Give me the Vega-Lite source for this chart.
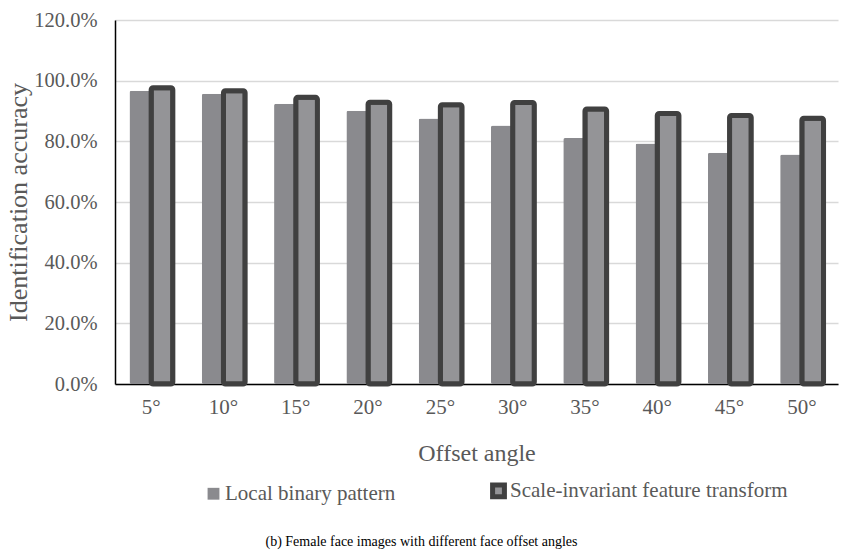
{
  "$schema": "https://vega.github.io/schema/vega-lite/v6.json",
  "width": 723,
  "height": 364,
  "autosize": {"type": "none"},
  "padding": {"left": 115, "top": 20, "right": 4, "bottom": 173},
  "background": "white",
  "title": {
    "text": "(b) Female face images with different face offset angles",
    "orient": "bottom",
    "font": "'Times New Roman', 'Liberation Serif', serif",
    "fontSize": 14,
    "fontWeight": "normal",
    "color": "#000000",
    "offset": 28,
    "anchor": "middle",
    "dx": -55
  },
  "data": {
    "values": [
      {"angle": "5°", "method": "Local binary pattern", "accuracy": 0.967},
      {"angle": "5°", "method": "Scale-invariant feature transform", "accuracy": 0.977},
      {"angle": "10°", "method": "Local binary pattern", "accuracy": 0.957},
      {"angle": "10°", "method": "Scale-invariant feature transform", "accuracy": 0.967},
      {"angle": "15°", "method": "Local binary pattern", "accuracy": 0.924},
      {"angle": "15°", "method": "Scale-invariant feature transform", "accuracy": 0.945},
      {"angle": "20°", "method": "Local binary pattern", "accuracy": 0.901},
      {"angle": "20°", "method": "Scale-invariant feature transform", "accuracy": 0.929},
      {"angle": "25°", "method": "Local binary pattern", "accuracy": 0.875},
      {"angle": "25°", "method": "Scale-invariant feature transform", "accuracy": 0.921},
      {"angle": "30°", "method": "Local binary pattern", "accuracy": 0.852},
      {"angle": "30°", "method": "Scale-invariant feature transform", "accuracy": 0.928},
      {"angle": "35°", "method": "Local binary pattern", "accuracy": 0.811},
      {"angle": "35°", "method": "Scale-invariant feature transform", "accuracy": 0.907},
      {"angle": "40°", "method": "Local binary pattern", "accuracy": 0.793},
      {"angle": "40°", "method": "Scale-invariant feature transform", "accuracy": 0.892},
      {"angle": "45°", "method": "Local binary pattern", "accuracy": 0.762},
      {"angle": "45°", "method": "Scale-invariant feature transform", "accuracy": 0.885},
      {"angle": "50°", "method": "Local binary pattern", "accuracy": 0.757},
      {"angle": "50°", "method": "Scale-invariant feature transform", "accuracy": 0.876}
    ]
  },
  "config": {
    "view": {"stroke": null},
    "font": "'Times New Roman', 'Liberation Serif', serif",
    "axis": {
      "labelColor": "#595959",
      "titleColor": "#595959",
      "titleFontWeight": "normal",
      "domainColor": "#000000",
      "domainWidth": 1.5,
      "ticks": false
    },
    "legend": {
      "labelColor": "#595959"
    }
  },
  "mark": {"type": "bar", "cornerRadius": 2},
  "encoding": {
    "x": {
      "field": "angle",
      "type": "nominal",
      "sort": null,
      "scale": {"paddingInner": 0.4, "paddingOuter": 0.2},
      "axis": {
        "title": "Offset angle",
        "labelFont": "Liberation Serif",
        "titleFont": "Liberation Serif",
        "labelAngle": 0,
        "labelFontSize": 21,
        "labelPadding": 12,
        "titleFontSize": 24,
        "titlePadding": 24,
        "grid": false
      }
    },
    "xOffset": {"field": "method", "type": "nominal", "sort": null},
    "y": {
      "field": "accuracy",
      "type": "quantitative",
      "scale": {"domain": [0, 1.2]},
      "axis": {
        "title": "Identification accuracy",
        "labelFont": "Liberation Serif",
        "titleFont": "Liberation Serif",
        "format": ".1%",
        "values": [0, 0.2, 0.4, 0.6, 0.8, 1.0, 1.2],
        "labelFontSize": 20.5,
        "labelPadding": 18,
        "titleFontSize": 26,
        "titlePadding": 2,
        "grid": true,
        "gridColor": "#d9d9d9",
        "gridWidth": 1.5
      }
    },
    "fill": {
      "field": "method",
      "type": "nominal",
      "sort": null,
      "scale": {"range": ["#8a8a8e", "#949497"]},
      "legend": {
        "title": null,
        "orient": "none",
        "legendX": 88,
        "legendY": 460,
        "direction": "horizontal",
        "symbolType": "square",
        "symbolSize": 140,
        "labelFont": "Liberation Serif",
        "labelFontSize": 21,
        "labelLimit": 0,
        "columnPadding": 86,
        "labelOffset": 1
      }
    },
    "stroke": {
      "field": "method",
      "type": "nominal",
      "sort": null,
      "scale": {"range": ["#8a8a8e", "#404040"]},
      "legend": null
    },
    "strokeWidth": {
      "field": "method",
      "type": "nominal",
      "sort": null,
      "scale": {"range": [0, 5]},
      "legend": null
    }
  }
}
